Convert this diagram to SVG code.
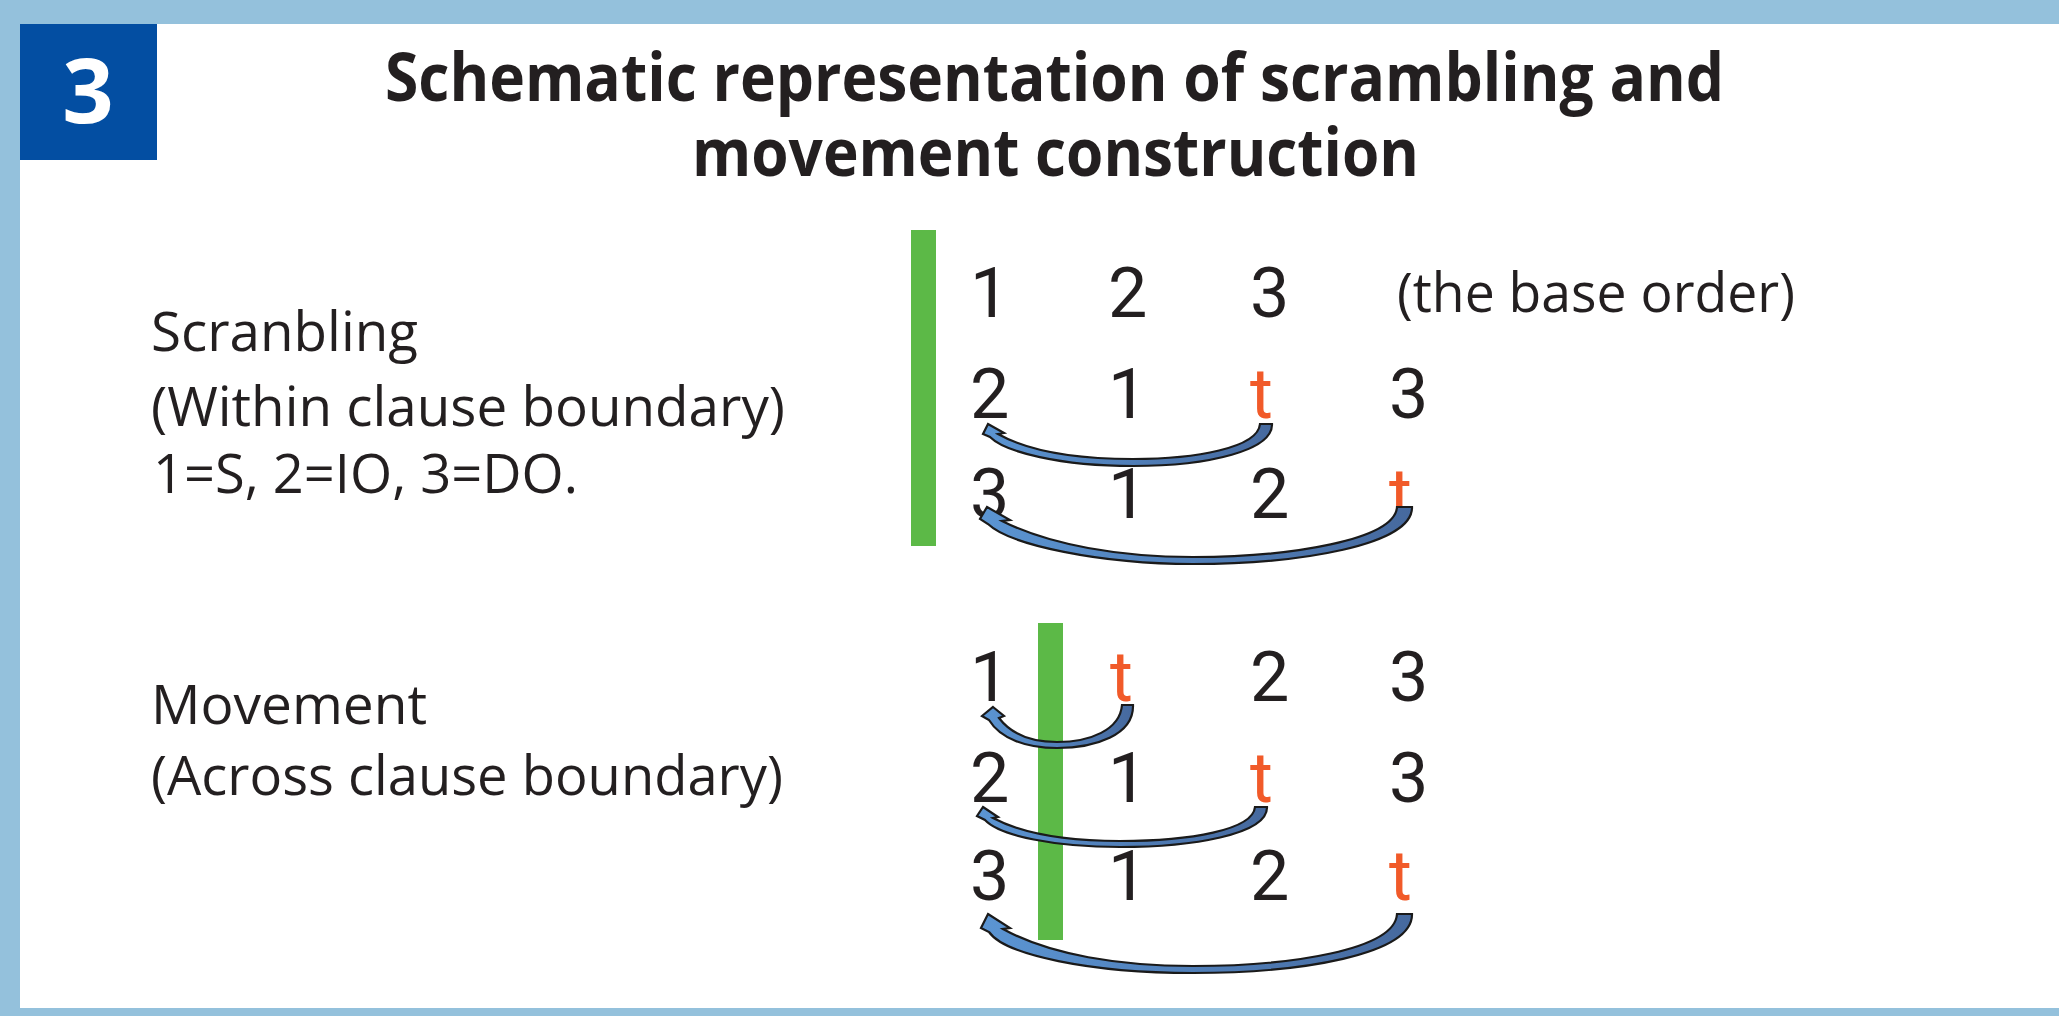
<svg xmlns="http://www.w3.org/2000/svg" width="2059" height="1016" viewBox="0 0 2059 1016">
<defs>
<style>
.title{font-family:"Open Sans","Liberation Sans",sans-serif;font-weight:700;font-size:66px;fill:#231F20;}
.label{font-family:"Open Sans","Liberation Sans",sans-serif;font-size:55px;fill:#231F20;}
.num{font-family:Roboto,"Liberation Sans",sans-serif;font-size:70px;fill:#231F20;}
.t{fill:#F15A29;}
.bar{fill:#5CB947;}
.band{fill:#94C1DC;}
.arrow{fill:url(#ag);stroke:#1A1A1A;stroke-width:2.2;stroke-linejoin:miter;}
</style>
<linearGradient id="ag" x1="0" y1="0" x2="1" y2="0">
<stop offset="0" stop-color="#5B95D3"/>
<stop offset="1" stop-color="#46699E"/>
</linearGradient>
</defs>
<rect width="2059" height="1016" fill="#FFFFFF"/>
<g id="frame">
<rect class="band" x="0" y="0" width="2059" height="24"/>
<rect class="band" x="0" y="0" width="20" height="1016"/>
<rect class="band" x="0" y="1008" width="2059" height="8"/>
</g>
<g id="badge">
<rect x="20" y="24" width="137" height="136" fill="#034EA2"/>
<text x="88" y="123" text-anchor="middle" font-family="'Open Sans','Liberation Sans',sans-serif" font-weight="700" font-size="90" fill="#FFFFFF">3</text>
</g>
<g id="title">
<text class="title" x="385" y="101" textLength="1339" lengthAdjust="spacingAndGlyphs">Schematic representation of scrambling and</text>
<text class="title" x="692" y="176" textLength="727" lengthAdjust="spacingAndGlyphs">movement construction</text>
</g>
<g id="label-scrambling">
<text class="label" x="151" y="351" textLength="267" lengthAdjust="spacingAndGlyphs">Scranbling</text>
<text class="label" x="151" y="426" textLength="634" lengthAdjust="spacingAndGlyphs">(Within clause boundary)</text>
<text class="label" x="153" y="493" textLength="425" lengthAdjust="spacingAndGlyphs">1=S, 2=IO, 3=DO.</text>
</g>
<g id="label-movement">
<text class="label" x="151" y="724" textLength="276" lengthAdjust="spacingAndGlyphs">Movement</text>
<text class="label" x="151" y="795" textLength="632" lengthAdjust="spacingAndGlyphs">(Across clause boundary)</text>
</g>
<g id="boundary-bars">
<rect class="bar" x="911" y="230" width="25" height="316"/>
<rect class="bar" x="1038" y="623" width="25" height="317"/>
</g>
<g id="scrambling-rows">
<text class="num" x="970" y="317">1</text>
<text class="num" x="1108" y="317">2</text>
<text class="num" x="1250" y="317">3</text>
<text class="label" x="1397" y="312" textLength="398" lengthAdjust="spacingAndGlyphs">(the base order)</text>
<text class="num" x="970" y="418">2</text>
<text class="num" x="1108" y="418">1</text>
<text class="num t" x="1250" y="418">t</text>
<text class="num" x="1389" y="418">3</text>
<text class="num" x="970" y="518">3</text>
<text class="num" x="1108" y="518">1</text>
<text class="num" x="1250" y="518">2</text>
<text class="num t" x="1389" y="518">t</text>
</g>
<g id="movement-rows">
<text class="num" x="970" y="701">1</text>
<text class="num t" x="1110" y="701">t</text>
<text class="num" x="1250" y="701">2</text>
<text class="num" x="1389" y="701">3</text>
<text class="num" x="970" y="802">2</text>
<text class="num" x="1108" y="802">1</text>
<text class="num t" x="1250" y="802">t</text>
<text class="num" x="1389" y="802">3</text>
<text class="num" x="970" y="900">3</text>
<text class="num" x="1108" y="900">1</text>
<text class="num" x="1250" y="900">2</text>
<text class="num t" x="1389" y="900">t</text>
</g>
<g id="connectors">
<path id="arrow-s1" class="arrow" d="M988,424 L1004,433 L998,434 C1030,452 1080,459 1133,459 C1195,459 1258,448 1260,424 L1272,424 C1273,450 1210,466 1133,466 C1060,466 1005,452 990,437 L983,434 Z"/>
<path id="arrow-s2" class="arrow" d="M987,507 L1010,520 L1002,521 C1050,545 1120,557 1193,557 C1290,557 1395,540 1397,507 L1412,507 C1413,545 1300,564 1193,564 C1100,564 1010,545 988,524 L980,519 Z"/>
<path id="arrow-m1" class="arrow" d="M993,707 L1004,716 L999,718 C1012,735 1032,742 1057,742 C1090,742 1120,730 1122,705 L1133,705 C1134,735 1095,748 1057,748 C1025,748 1000,738 989,720 L982,716 Z"/>
<path id="arrow-m2" class="arrow" d="M983,807 L998,817 L993,818 C1025,835 1070,841 1120,841 C1190,841 1253,830 1255,807 L1267,807 C1268,835 1190,847 1120,847 C1055,847 1000,836 985,820 L977,816 Z"/>
<path id="arrow-m3" class="arrow" d="M988,914 L1010,928 L1003,929 C1050,955 1120,966 1193,966 C1290,966 1395,950 1397,914 L1412,914 C1413,955 1300,973 1193,973 C1090,973 1005,955 989,932 L981,928 Z"/>
</g>
</svg>
